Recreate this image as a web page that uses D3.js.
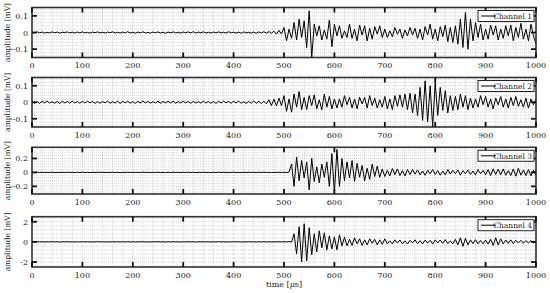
<!DOCTYPE html>
<html><head><meta charset="utf-8">
<script src="https://cdn.jsdelivr.net/npm/d3@7"></script>
<style>body{margin:0;background:#fff}svg{display:block}text{font-family:"DejaVu Serif","Liberation Serif",serif;fill:#222}</style>
</head><body><svg id="c" width="550" height="293"></svg>
<script>
// ---- data (mV), sampled every 5 µs from 0 to 1000 µs ----
const xTickValues = [0,100,200,300,400,500,600,700,800,900,1000];
const xTickLabels = ["0","100","200","300","400","500","600","700","800","900","1000"];
const channelNames = ["Channel 1","Channel 2","Channel 3","Channel 4"];
const yTickValues = [[-0.1,0,0.1],[-0.1,0,0.1],[-0.2,0,0.2],[-2,0,2]];
const yTickLabels = [["-0.1","0","0.1"],["-0.1","0","0.1"],["-0.2","0","0.2"],["-2","0","2"]];
const yDomains = [[-0.15,0.15],[-0.15,0.15],[-0.31,0.36],[-2.5,2.5]];

const ch1 = [
0.002,-0.003,0.004,-0.002,0.003,-0.004,0.001,-0.003,0.004,-0.002,
0.003,-0.004,0.002,-0.001,0.004,-0.003,0.002,-0.004,0.003,-0.002,
0.004,-0.003,0.001,-0.004,0.003,-0.002,0.004,-0.003,0.002,-0.004,
0.003,-0.001,0.004,-0.003,0.002,-0.004,0.003,-0.002,0.005,-0.003,
0.002,-0.004,0.003,-0.002,0.004,-0.003,0.001,-0.004,0.003,-0.002,
0.004,-0.003,0.002,-0.005,0.003,-0.002,0.004,-0.003,0.002,-0.004,
0.003,-0.002,0.004,-0.003,0.005,-0.004,0.003,-0.002,0.004,-0.003,
0.002,-0.004,0.003,-0.002,0.004,-0.003,0.002,-0.004,0.005,-0.003,
0.002,-0.004,0.003,-0.005,0.004,-0.003,0.002,-0.004,0.003,-0.005,
0.004,-0.003,0.005,-0.004,0.006,-0.005,
0.008,-0.01,0.012,-0.009,
0.03,-0.05,0.02,-0.035,0.06,-0.045,
0.08,-0.03,0.07,-0.09,
0.13,-0.15,
0.05,-0.02,0.04,-0.045,0.015,
-0.04,0.075,-0.085,0.05,
-0.02,0.04,-0.035,0.01,-0.03,
0.05,-0.035,0.02,-0.05,0.045,-0.015,0.04,-0.05,0.025,-0.04,0.035,-0.01,0.04,-0.03,0.02,
-0.03,0.01,-0.025,0.03,-0.01,0.02,-0.035,0.015,-0.02,0.03,-0.015,0.025,
-0.035,0.02,-0.045,0.035,-0.015,0.05,-0.04,0.02,-0.05,0.035,-0.025,0.045,-0.055,0.03,
-0.06,0.04,-0.07,0.08,
-0.09,0.12,-0.1,0.08,
-0.05,0.06,-0.03,0.05,-0.045,0.02,
-0.04,0.045,-0.015,0.04,-0.045,0.02,-0.035,0.04,-0.02,0.045,-0.05,0.03,
-0.03,0.055,-0.04,0.02,-0.05,0.05,-0.02,-0.07];

const ch2 = [
0.005,-0.006,0.004,-0.007,0.006,-0.004,0.007,-0.005,0.003,-0.006,
0.005,-0.007,0.006,-0.004,0.005,-0.006,0.007,-0.005,0.004,-0.006,
0.006,-0.005,0.007,-0.004,0.005,-0.007,0.004,-0.006,0.005,-0.004,
0.007,-0.006,0.004,-0.005,0.006,-0.007,0.005,-0.004,0.006,-0.005,
0.004,-0.007,0.006,-0.005,0.007,-0.004,0.005,-0.006,0.004,-0.005,
0.006,-0.007,0.005,-0.004,0.006,-0.005,0.007,-0.006,0.004,-0.005,
0.006,-0.004,0.005,-0.007,0.006,-0.005,0.004,-0.006,0.007,-0.005,
0.005,-0.006,0.004,-0.007,0.006,-0.005,0.007,-0.004,0.005,-0.006,
0.006,-0.005,0.007,-0.006,0.004,-0.007,0.005,-0.006,0.008,-0.007,
0.006,-0.008,0.007,-0.009,
0.015,-0.02,0.018,-0.022,0.025,-0.02,
0.04,-0.055,0.02,-0.06,0.05,-0.03,0.065,-0.045,0.03,
-0.045,0.04,-0.02,0.045,-0.04,0.015,-0.045,0.05,-0.03,0.035,-0.04,0.02,
-0.035,0.02,-0.03,0.04,-0.015,0.03,-0.035,0.02,-0.04,0.03,-0.01,0.03,-0.035,0.04,-0.02,0.025,-0.035,0.015,-0.03,0.035,
-0.04,0.02,-0.045,0.04,-0.025,0.045,-0.03,0.05,-0.045,0.055,
-0.065,0.05,-0.08,0.09,
-0.11,0.13,-0.12,0.1,-0.15,0.12,
-0.08,0.09,-0.05,0.07,-0.065,0.04,
-0.05,0.035,-0.045,0.05,-0.03,0.04,-0.045,0.025,
-0.035,0.02,-0.03,0.04,-0.015,0.035,-0.03,0.02,-0.04,0.025,-0.015,0.035,-0.03,0.02,-0.035,0.03,-0.02,0.035,-0.025,0.015,-0.03,0.025,-0.035,0.02,-0.015,0.02];

const ch3 = [
0.002,-0.002,0.003,-0.001,0.002,-0.003,0.001,-0.002,0.003,-0.002,
0.001,-0.003,0.002,-0.002,0.003,-0.001,0.002,-0.003,0.002,-0.001,
0.003,-0.002,0.001,-0.003,0.002,-0.002,0.003,-0.001,0.002,-0.003,
0.002,-0.001,0.003,-0.002,0.002,-0.003,0.001,-0.002,0.003,-0.002,
0.001,-0.003,0.002,-0.002,0.003,-0.001,0.002,-0.003,0.002,-0.001,
0.003,-0.002,0.001,-0.003,0.002,-0.002,0.003,-0.001,0.002,-0.003,
0.002,-0.001,0.003,-0.002,0.002,-0.003,0.001,-0.002,0.003,-0.002,
0.001,-0.003,0.002,-0.002,0.003,-0.001,0.002,-0.003,0.002,-0.001,
0.003,-0.002,0.001,-0.003,0.002,-0.002,0.003,-0.001,0.002,-0.003,
0.002,-0.001,0.003,-0.002,0.002,-0.003,0.001,-0.002,0.003,-0.002,
0.003,-0.004,0.005,
0.12,-0.2,0.22,
-0.12,0.17,-0.08,0.15,
-0.25,0.2,
-0.13,0.08,-0.15,0.12,-0.07,0.15,-0.2,
0.27,-0.3,0.33,-0.2,
0.2,-0.12,0.15,-0.08,0.17,-0.13,
0.13,-0.07,0.1,-0.12,0.06,-0.1,0.12,-0.06,0.09,-0.07,
0.05,-0.06,0.03,-0.05,0.055,-0.03,0.05,-0.045,0.025,-0.05,0.04,-0.03,
0.04,-0.025,0.035,-0.035,0.02,-0.04,0.03,-0.02,0.04,-0.03,0.025,-0.04,0.02,-0.035,0.04,-0.025,0.03,-0.02,0.035,-0.04,0.025,-0.02,0.035,-0.03,0.02,-0.035,0.04,-0.02,0.03,-0.035,
0.04,-0.045,0.05,-0.03,0.045,-0.035,0.05,-0.04,0.025,-0.045,0.05,-0.055,0.06,-0.04,0.035,-0.045,0.04,-0.05,0.03,-0.04];

const ch4 = [
0.01,-0.01,0.02,-0.01,0.01,-0.02,0.01,-0.01,0.02,-0.01,
0.01,-0.02,0.01,-0.01,0.02,-0.01,0.01,-0.02,0.01,-0.01,
0.02,-0.01,0.01,-0.02,0.01,-0.01,0.02,-0.01,0.01,-0.02,
0.01,-0.01,0.02,-0.01,0.01,-0.02,0.01,-0.01,0.02,-0.01,
0.01,-0.02,0.01,-0.01,0.02,-0.01,0.01,-0.02,0.01,-0.01,
0.02,-0.01,0.01,-0.02,0.01,-0.01,0.02,-0.01,0.01,-0.02,
0.01,-0.01,0.02,-0.01,0.01,-0.02,0.01,-0.01,0.02,-0.01,
0.01,-0.02,0.01,-0.01,0.02,-0.01,0.01,-0.02,0.01,-0.01,
0.02,-0.01,0.01,-0.02,0.01,-0.01,0.02,-0.01,0.01,-0.02,
0.01,-0.01,0.02,-0.01,0.01,-0.02,0.01,-0.01,0.02,-0.01,
0.02,-0.02,0.03,-0.03,
0.8,-1.2,1.5,
-2.0,1.8,-1.9,1.4,
-1.3,0.8,-1.0,1.1,-0.6,0.9,
-0.8,0.6,-0.7,0.5,
-0.8,0.7,-0.4,0.45,
-0.4,0.25,-0.35,0.4,-0.2,0.3,-0.35,0.2,-0.3,0.3,-0.15,0.25,-0.3,0.2,-0.25,0.3,
-0.2,0.1,-0.2,0.2,-0.12,0.18,-0.2,0.1,-0.22,0.15,-0.1,0.2,-0.18,0.12,-0.2,0.18,-0.12,0.15,-0.22,0.2,-0.1,0.18,-0.15,0.22,-0.18,0.1,-0.2,0.25,-0.3,
0.4,-0.45,0.35,-0.3,
0.2,-0.18,0.22,-0.2,0.15,-0.2,0.18,-0.22,0.25,
-0.35,0.4,-0.3,0.3,
-0.2,0.18,-0.15,0.2,-0.18,0.15,-0.12,0.15,-0.14,0.12,-0.1,0.12,-0.1,0.05];

const channels = [ch1, ch2, ch3, ch4];
const times = d3.range(0, 1001, 5);
const yMinorSteps = [0.02, 0.02, 0.04, 0.4];

// ---- layout ----
const svg = d3.select("#c");
const L = 32, R = 536;
const panels = [{t:7.5,b:57.5},{t:77.5,b:127},{t:147.3,b:194},{t:216.7,b:267}];
const x = d3.scaleLinear().domain([0,1000]).range([L,R]);

panels.forEach((p, k) => {
  const y = d3.scaleLinear().domain(yDomains[k]).range([p.b, p.t]);
  const g = svg.append("g");
  const cid = "clip" + k;
  svg.append("clipPath").attr("id", cid).append("rect")
    .attr("x", L).attr("y", p.t).attr("width", R - L).attr("height", p.b - p.t);

  // grid (dotted)
  const grid = g.append("g").attr("stroke", "#b5b5b5").attr("stroke-width", 0.6).attr("stroke-dasharray", "1,1");
  d3.range(20, 1000, 20).forEach(v => {
    grid.append("line").attr("x1", x(v)).attr("x2", x(v)).attr("y1", p.t).attr("y2", p.b);
  });
  const st = yMinorSteps[k];
  const ys = d3.range(Math.ceil(yDomains[k][0]/st), Math.floor(yDomains[k][1]/st) + 1).map(i => i*st);
  ys.forEach(v => {
    grid.append("line").attr("x1", L).attr("x2", R).attr("y1", y(v)).attr("y2", y(v));
  });

  // signal
  const line = d3.line().x((d, i) => x(times[i])).y(d => y(d));
  g.append("path").datum(channels[k]).attr("clip-path", `url(#${cid})`)
    .attr("d", line).attr("fill", "none").attr("stroke", "#000").attr("stroke-width", 1);

  // frame
  g.append("rect").attr("x", L).attr("y", p.t).attr("width", R - L).attr("height", p.b - p.t)
    .attr("fill", "none").attr("stroke", "#333").attr("stroke-width", 1.6);

  // ticks (inward, all sides)
  const tk = g.append("g").attr("stroke", "#111").attr("stroke-width", 1.8);
  xTickValues.forEach(v => {
    tk.append("line").attr("x1", x(v)).attr("x2", x(v)).attr("y1", p.b).attr("y2", p.b - 5);
    tk.append("line").attr("x1", x(v)).attr("x2", x(v)).attr("y1", p.t).attr("y2", p.t + 5);
  });
  yTickValues[k].forEach(v => {
    tk.append("line").attr("x1", L).attr("x2", L + 5).attr("y1", y(v)).attr("y2", y(v));
    tk.append("line").attr("x1", R).attr("x2", R - 5).attr("y1", y(v)).attr("y2", y(v));
  });

  // tick labels
  xTickValues.forEach((v, i) => {
    g.append("text").attr("x", x(v)).attr("y", p.b + 10.5).attr("text-anchor", "middle")
      .attr("font-size", 8).text(xTickLabels[i]);
  });
  yTickValues[k].forEach((v, i) => {
    g.append("text").attr("x", L - 4).attr("y", y(v) + 3).attr("text-anchor", "end")
      .attr("font-size", 8).text(yTickLabels[k][i]);
  });

  // y label
  const cy = (p.t + p.b) / 2;
  g.append("text").attr("transform", `translate(10,${cy}) rotate(-90)`).attr("text-anchor", "middle")
    .attr("font-size", 7.5).text("amplitude [mV]");

  // legend
  const lx = 478, lw = 56, ly = p.t + 3, lh = 11;
  g.append("rect").attr("x", lx).attr("y", ly).attr("width", lw).attr("height", lh)
    .attr("fill", "#fff").attr("stroke", "#222").attr("stroke-width", 1);
  g.append("line").attr("x1", lx + 3).attr("x2", lx + 18).attr("y1", ly + lh/2).attr("y2", ly + lh/2)
    .attr("stroke", "#000").attr("stroke-width", 1);
  g.append("text").attr("x", lx + lw - 2).attr("y", ly + lh/2 + 2.8).attr("text-anchor", "end")
    .attr("font-size", 7.5).text(channelNames[k]);
});

// x label
const xl = svg.append("text").attr("x", (L + R) / 2).attr("y", 287).attr("text-anchor", "middle").attr("font-size", 8);
xl.append("tspan").text("time [");
xl.append("tspan").attr("font-style", "italic").text("μ");
xl.append("tspan").text("s]");
</script></body></html>
